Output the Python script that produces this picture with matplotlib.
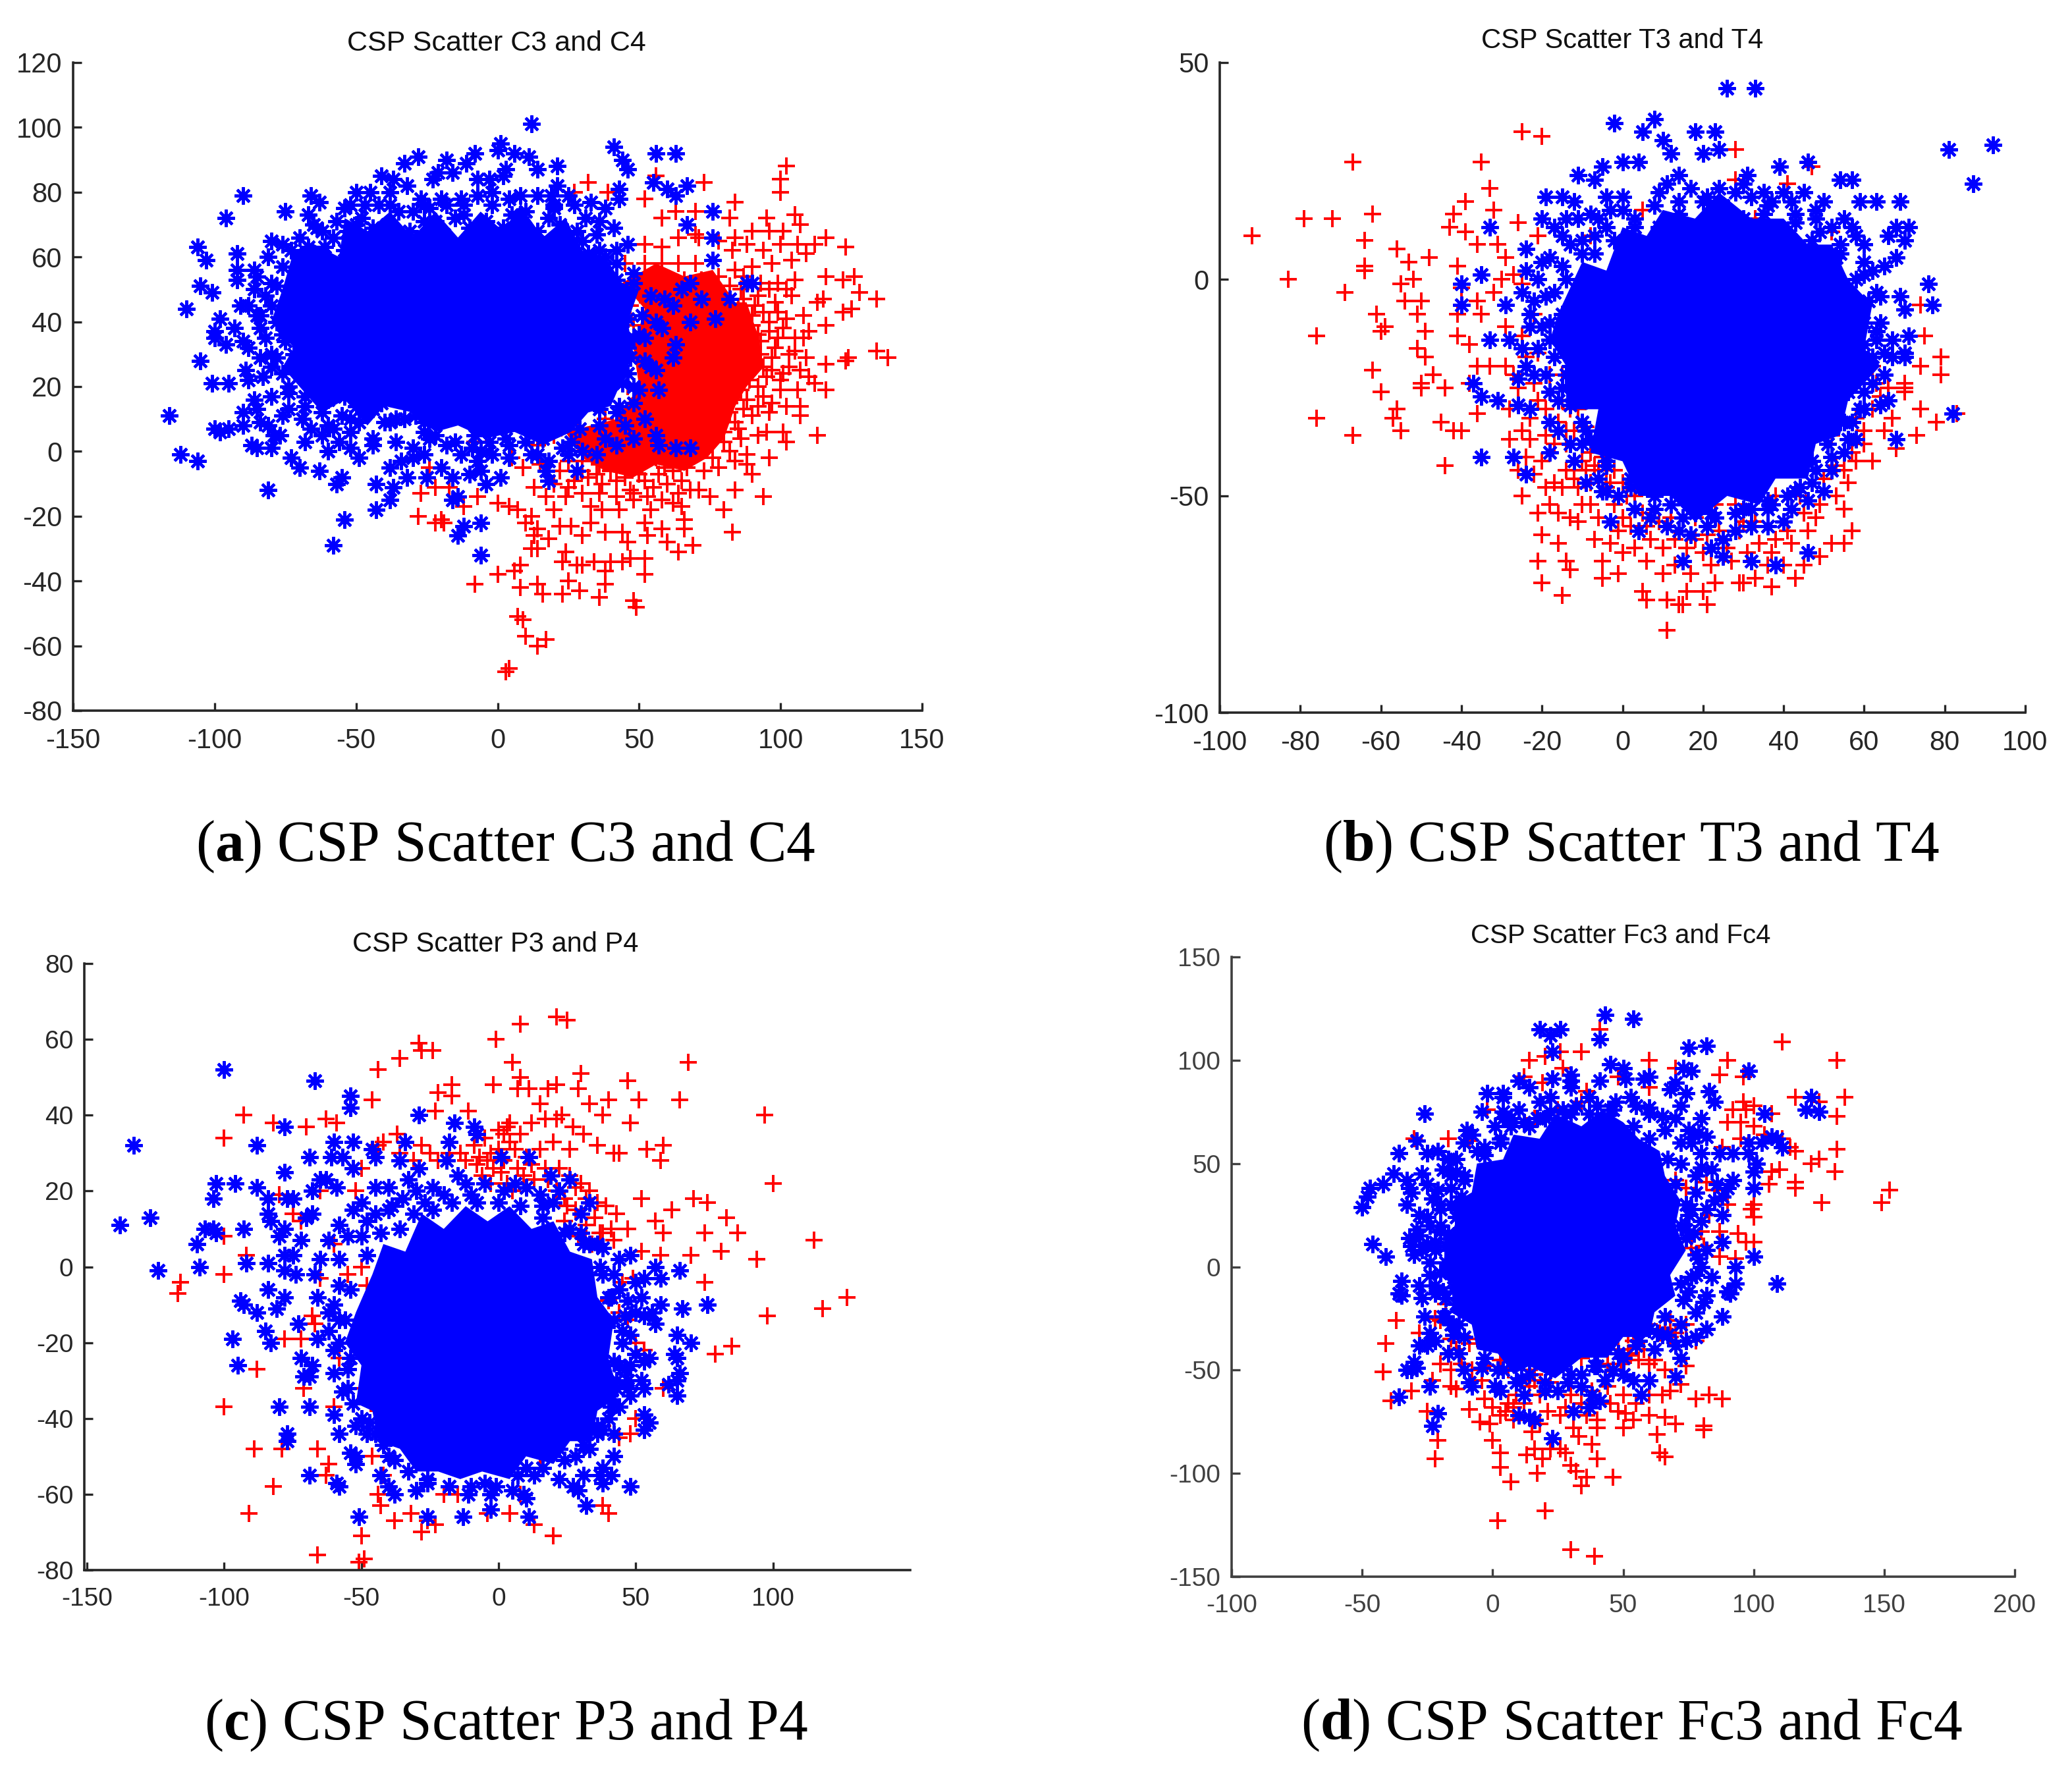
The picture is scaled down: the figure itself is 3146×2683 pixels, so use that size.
import matplotlib
matplotlib.use('Agg')
import matplotlib.pyplot as plt

plt.rcParams['font.family'] = ['Liberation Sans', 'DejaVu Sans']
plt.rcParams['axes.unicode_minus'] = False
plt.rcParams['mathtext.fontset'] = 'custom'
plt.rcParams['mathtext.rm'] = 'Liberation Serif'
plt.rcParams['mathtext.bf'] = 'Liberation Serif:bold'

W, H = 3146, 2683

# values, single markers can't be told apart inside the solid cores
a_red = [(3,-68),(4,-67),(7,-51),(9,-52),(10,-57),(14,-60),(17,-58),(-8,-41),(0,-38),(6,-37),(8,-35),(8,-42),(14,-41),(16,-44),(23,-44),(25,-40),(29,-43),(36,-45),(38,-41),(38,-37),(48,-46),(49,-48),(52,-38),(52,-33),(64,-31),(69,-29),(44,-34),(47,-33),(40,-34),(34,-34),(30,-35),(28,-35),(23,-34),(24,-31),(14,-30),(12,-30),(-6,-32),(-28,-20),(-22,-22),(-20,-21),(-19,-22),(10,-22),(12,-20),(14,-24),(13,-26),(18,-27),(22,-23),(26,-23),(30,-26),(33,-22),(38,-25),(44,-25),(46,-28),(52,-22),(53,-26),(58,-24),(60,-28),(65,-17),(66,-24),(66,-21),(83,-25),(80,-18),(75,-14),(71,-12),(84,-12),(94,-14),(96,-2),(90,-7),(88,-1),(113,5),(107,11),(107,14),(102,3),(101,6),(95,6),(116,19),(112,21),(110,23),(116,27),(123,28),(124,29),(134,31),(138,29),(116,39),(110,37),(108,35),(115,47),(113,46),(116,54),(122,53),(126,54),(128,49),(134,47),(125,44),(122,43),(123,63),(116,66),(112,64),(106,64),(107,70),(105,73),(101,68),(96,68),(95,72),(84,77),(82,72),(100,80),(100,84),(102,88),(73,83),(70,74),(56,85),(52,78),(32,83),(27,80),(39,80),(-27,-13),(-24,-5),(-22,-11),(-17,-11),(-12,-17),(-7,-14),(0,-16),(4,-17),(7,-18),(13,-11),(17,-14),(20,-18),(24,-14),(30,-13),(33,-17),(37,-18),(43,-18),(48,-15),(54,-18),(58,-15),(62,-16),(68,-12),(73,-6),(78,-5),(84,-3),(22,-6),(27,-9),(32,-8),(37,-10),(42,-9),(47,-12),(52,-9),(57,-7),(62,-6),(67,-5),(30,-3),(36,-4),(41,-3),(46,-5),(51,-4),(56,-2),(61,-1),(68,1),(74,2),(80,3),(86,4),(92,5),(33,3),(38,4),(44,3),(49,5),(54,6),(60,6),(65,8),(72,8),(78,9),(84,9),(90,11),(96,12),(102,14),(50,11),(56,12),(62,12),(66,14),(70,14),(76,15),(82,15),(88,16),(94,17),(100,19),(106,19),(60,18),(64,19),(68,19),(72,20),(77,21),(83,21),(89,22),(95,23),(101,24),(107,25),(64,24),(68,25),(71,25),(74,26),(79,27),(85,28),(91,28),(97,29),(103,30),(109,29),(62,29),(66,30),(69,30),(72,31),(76,31),(81,32),(87,33),(93,34),(99,35),(105,35),(60,35),(64,35),(68,35),(72,36),(76,36),(80,37),(84,38),(90,39),(96,40),(102,41),(108,42),(48,39),(55,40),(62,40),(67,41),(71,41),(75,42),(79,42),(85,44),(91,45),(98,46),(104,48),(47,45),(53,46),(59,46),(65,46),(70,47),(75,47),(80,48),(86,50),(93,52),(99,52),(105,53),(40,51),(48,52),(54,52),(60,52),(66,53),(72,53),(78,54),(84,56),(90,57),(97,58),(104,59),(109,61),(45,58),(52,58),(58,58),(64,58),(70,58),(76,59),(83,62),(88,64),(94,62),(100,64),(52,64),(58,63),(64,66),(71,66),(78,65),(84,66),(90,68),(58,72),(63,74),(70,67),(24,30),(27,25),(30,20),(35,15),(38,10),(43,14),(46,20),(42,25),(45,30),(38,33),(33,28),(25,12),(28,7),(20,5),(14,2),(-4,5),(-8,3),(5,-2),(9,-5),(15,-4),
(92,20),(97,25),(93,30),(98,32),(103,26),(88,26),(92,36),(96,37),(101,38),(105,31),(100,22),(94,26),(86,31),(90,42),(94,43),(99,43),(87,47),(82,51),(87,54),(92,48),(96,50),(102,50),(82,18),(86,19),(80,24),(84,23),(76,11),(82,12),(87,13),(92,14),(97,15),(74,5),(80,6),(85,7),(70,-1),(76,-2),(82,0),(88,-4),(30,-6),(25,-3),(35,-7),(40,-6),(45,-8),(50,-7),(55,-11),(60,-10),(65,-9),(36,-13),(42,-14),(48,-13),(53,-14),(25,-11),(20,-10),(64,-13),(59,-5)]
a_blue = [(12,101),(1,95),(0,93),(-28,91),(-18,90),(-33,89),(-23,84),(-16,86),(-21,86),(-11,89),(-8,92),(6,92),(11,91),(14,87),(3,87),(2,85),(-7,84),(-3,84),(21,88),(41,94),(44,90),(46,87),(56,92),(63,92),(55,83),(21,82),(43,81),(60,81),(67,82),(63,79),(43,78),(76,74),(67,70),(76,66),(76,59),(-66,79),(-63,77),(-41,85),(-37,84),(-32,82),(-38,80),(-45,80),(-50,80),(-27,78),(-90,79),(-96,72),(-75,74),(-67,73),(-65,70),(-106,63),(-103,59),(-92,61),(-80,65),(-105,51),(-101,49),(-92,56),(-92,53),(-86,56),(-85,54),(-86,50),(-81,60),(-110,44),(-98,41),(-91,45),(-100,37),(-100,35),(-96,33),(-93,38),(-90,34),(-85,42),(-105,28),(-101,21),(-95,21),(-89,25),(-116,11),(-112,-1),(-106,-3),(-100,7),(-98,6),(-95,7),(-90,12),(-90,8),(-87,2),(-85,1),(-81,8),(-80,1),(-77,5),(-81,-12),(-73,-2),(-70,-5),(-63,-6),(-49,-2),(-55,-8),(-57,-10),(-54,-21),(-58,-29),(-43,-18),(-38,-15),(-43,-10),(-37,-11),(-16,-15),(-14,-14),(-14,-26),(-12,-23),(-6,-22),(-6,-32),(-4,-10),(1,-8),(18,-9),(28,-6),
(-54,75),(-48,72),(-42,76),(-35,74),(-24,75),(-18,76),(-12,73),(-7,79),(-2,76),(4,78),(10,74),(14,79),(20,75),(27,76),(31,72),(38,75),(-53,68),(-47,66),(-39,70),(-31,68),(-26,71),(-19,67),(-10,69),(-4,71),(2,69),(8,70),(14,68),(22,70),(28,68),(35,67),(41,69),(46,64),(42,62),(-73,62),(-67,63),(-61,63),(-54,62),(-48,60),(-41,64),(-34,62),(-29,61),(-22,63),(-15,60),(-8,62),(-1,64),(5,63),(10,62),(17,61),(24,62),(32,61),(38,60),
(-76,57),(-70,58),(-64,57),(-58,57),(-52,56),(-46,55),(-40,58),(-33,56),(-27,55),(-20,57),(-12,54),(-6,57),(2,56),(8,57),(15,56),(22,55),(29,56),(35,54),(42,53),(48,52),
(-78,51),(-80,45),(-78,40),(-82,35),(-75,34),(-84,29),(-78,29),(-72,30),(-66,30),(-60,29),(-54,28),(-83,23),(-76,24),(-70,24),(-64,24),(-57,23),(-50,22),(-44,23),(-86,16),(-80,17),(-74,18),(-68,17),(-60,16),(-54,17),(-47,17),(-41,15),(-35,18),(-84,9),(-76,11),(-69,10),(-62,12),(-55,11),(-49,9),(-40,9),(-33,10),(-26,9),(-19,10),(-12,11),(-68,3),(-62,5),(-56,3),(-52,6),(-44,2),(-36,3),(-30,1),(-24,4),(-15,3),(-9,1),(-3,3),(3,4),(10,3),(16,4),(23,1),(30,0),(38,4),(42,2),(48,4),(57,2),(63,1),(68,1),
(46,41),(51,42),(56,40),(59,47),(58,38),(62,45),(65,50),(68,52),(72,47),(82,47),(88,52),(90,52),(46,32),(63,33),(62,29),(68,40),(77,41),(47,29),(54,26),(56,25),(44,21),(50,19),(57,19),(36,13),(43,14),(48,15),(45,8),(52,10),(56,5),(24,9),(29,7),(40,36),(44,33),(48,35),(52,35),(42,27),(46,24),(38,20),(34,15),
(-60,0),(-52,1),(-34,-3),(-30,-2),(-26,-1),(-20,-5),(-13,-1),(-7,-3),(-2,-1),(4,-2),(12,-1),(18,-3),(25,-1),(35,-1),(-38,-5),(-32,-8),(-25,-8),(-16,-8),(-10,-7),(-6,-6),(17,-6),
(-70,66),(-64,69),(-57,71),(-50,70),(-44,69),(-36,66),(-30,74),(-22,71),(-15,72),(-9,66),(-3,67),(5,73),(11,66),(18,72),(24,66),(30,65),(36,71),(-58,66),(-47,76),(-38,76),(-29,65),(-20,78),(-13,78),(-2,80),(8,79),(19,79),(25,79),(33,77),(-73,50),(-82,48),(-88,45),(-84,38),(-88,32),(-80,26),(-88,22),(-85,13),(-79,5),(-74,13),(-66,7),(-58,7),(-50,14),(-44,13),(-38,9),(-29,11),(-22,5),(-8,5),(2,8),
(-84,42),(-80,52),(-76,64),(-62,68),(-52,76),(-26,76),(-12,76),(8,72),(20,76),(28,68),(36,62),(42,58),(48,55),(54,48),(50,36),(52,28),(48,20),(42,12),(36,8),(26,3),(14,-1),(4,2),(-6,0),(-18,2),(-26,6),(-36,10),(-44,4),(-52,10),(-60,8),(-68,14),(-74,20),(-80,30),(-76,36)]

b_red = [(-92,10),(-83,0),(-79,14),(-72,14),(-67,27),(-69,-3),(-64,2),(-64,3),(-64,9),(-62,15),(-61,-8),(-60,-12),(-59,-11),(-76,-13),(-76,-32),(-67,-36),(-62,-21),(-60,-26),(-56,-30),(-57,-32),(-55,-35),(-56,7),(-53,4),(-52,0),(-55,-1),(-54,-5),(-50,-5),(-51,-8),(-49,-12),(-51,-16),(-49,-18),(-50,-24),(-50,-25),(-47,-22),(-48,5),(-44,-25),(-45,-33),(-42,-35),(-40,-35),(-44,-43),(-43,12),(-42,15),(-39,18),(-35,27),(-33,21),(-32,16),(-39,11),(-36,8),(-31,8),(-29,5),(-26,13),(-25,34),(-20,33),(-21,10),(-41,3),(-40,-2),(-41,-8),(-41,-13),(-38,-15),(-36,-5),(-35,-8),(-32,-3),(-30,0),(-27,1),(-25,-1),(-29,-11),(-25,-13),(-22,-8),(-36,-20),(-33,-20),(-38,-24),(-29,-20),(-27,-22),(-24,-18),(-21,-17),(-36,-31),(-28,-37),(-25,-35),(-23,-37),(-19,-36),(-26,-44),(-25,-50),(-21,-54),(-20,-59),(-18,-52),(-19,-48),(-21,-65),(-20,-70),(-16,-61),(-15,-73),(-14,-65),(-13,-67),(-15,-48),(-12,-44),(-11,-56),(-7,-60),(-6,-55),(-5,-65),(-5,-69),(-1,-68),(-3,-61),(5,-72),(6,-74),(11,-81),(11,-74),(14,-75),(15,-75),(16,-72),(20,-72),(21,-75),(23,-70),(29,-70),(30,-70),(37,-71),(43,-69),(45,-66),(49,-64),(52,-61),(55,-61),(57,-58),(48,-55),(56,-47),(58,-42),(62,-42),(65,-35),(62,-30),(68,-39),(73,-36),(74,-30),(78,-33),(83,-31),(79,-22),(79,-18),(75,-13),(74,-6),(70,-24),(70,-26),(74,-20),(70,-25),(47,26),(28,30),(28,23),(41,22),(33,14),(5,16),(-8,10),(52,11),(-12,-35),(-8,-40),(-4,-44),(-10,-42),(-14,-38),(-16,-33),(-19,-30),(-13,-30),(-8,-47),(-4,-48),(0,-47),(3,-50),(5,-54),(0,-55),(7,-60),(10,-62),(3,-62),(13,-66),(17,-68),(20,-63),(24,-58),(29,-58),(34,-61),(38,-60),(42,-61),(46,-58),(18,-55),(28,-52),(38,-50),(44,-50),(50,-46),(53,-43),(57,-40),(46,-42),(52,-36),(60,-35),(60,-26),(58,-23),(63,-24),(55,-22),(53,-25),(60,-20),(-22,-24),(-18,-26),(-15,-28),(-12,-25),(-20,-42),(-14,-44),(-11,-48),(-6,-44),(1,-40),(4,-46),(8,-44),(-2,-52),(8,-53),(12,-55),(23,-52),(31,-63),(36,-66),(0,-63),(-8,-52),
(-17,-38),(-14,-35),(-10,-38),(-7,-43),(-5,-41),(-2,-44),(-12,-46),(-9,-44),(-3,-47),(1,-50),(-1,-58),(2,-57),(6,-57),(9,-56),(13,-60),(16,-62),(21,-59),(26,-62),(30,-56),(33,-56),(37,-63),(41,-58),(45,-54),(49,-52),(53,-50),(55,-53),(-23,-32),(-21,-28),(-18,-22),(-15,-22),(-11,-30),(-9,-34),(-6,-37),(55,-44),(60,-38),(58,-32),(64,-27),(62,-20),(66,-25),(67,-32),(-26,-25),(-28,-30),(-24,-41),(-22,-45),(-17,-47),(18,-60),(22,-66),(27,-65),(40,-66),(33,-69),(10,-68),(6,-65),(-10,-52),(-13,-55),(-16,-54)]
b_blue = [(26,44),(33,44),(8,37),(-2,36),(5,34),(18,34),(23,34),(10,32),(12,29),(20,29),(24,30),(0,27),(4,27),(-5,26),(-11,24),(-7,23),(14,24),(39,26),(46,27),(31,24),(54,23),(57,23),(81,30),(92,31),(87,22),(59,18),(63,18),(69,18),(-19,19),(-15,19),(-4,19),(0,19),(-20,14),(-14,14),(-11,14),(-33,12),(48,14),(71,12),(68,12),(66,10),(70,9),(68,5),(65,3),(-35,1),(-40,-1),(-40,-6),(-29,-6),(-24,2),(-21,0),(-33,-14),(76,-1),(69,-4),(77,-6),(70,-7),(71,-13),(70,-17),(70,-18),(-23,-11),(-37,-24),(-35,-27),(-31,-28),(-26,-29),(-23,-30),(82,-31),(68,-37),(-35,-41),(-27,-41),(-24,-45),(-18,-33),(-18,-40),(-5,-49),(-3,-56),(4,-58),(-4,-49),(15,-65),(25,-64),(32,-65),(38,-66),(46,-63),(22,-62),(25,-60),(14,-58),(36,-57),(40,-56),(18,-54),(23,-55),(66,-28),(64,-29),(65,-22),(59,-30),(58,-37),(56,-37),(60,-10),(57,-8),(-24,-20),(-26,-23),(-22,-22),(-18,-26),(-16,-35),(-13,-38),(-12,-42),(-9,-47),(32,19),(37,18),(35,15),(43,15),(52,12),(57,12),(58,10),(54,8),(53,5),(47,9),(50,6),(58,0),(62,2),(63,-3),(-15,10),(-13,8),(-10,6),(-18,5),(-15,3),(-7,10),(-4,12),(-17,-3),(-10,-4),(-15,-8),(-18,-10),(-12,-11),(-18,-14),(-14,-16),(-21,-16),(-15,-25),(-13,-29),(-9,-28),(-10,-33),(-8,-37),(-4,-42),(60,-15),(62,-18),(58,-20),(56,-26),(54,-33),(51,-38),(48,-44),(44,-48),(46,-51),(50,-49),(41,-50),(37,-52),(32,-53),(28,-54),(12,-52),(8,-50),(2,-48),
(20,18),(25,17),(30,14),(14,15),(9,12),(3,12),(-8,15),(-3,16),(17,21),(24,21),(35,20),(42,18),(50,18),(9,20),(-12,18),(-17,12),(-24,7),(-20,4),(-25,-3),(-22,-5),(-28,-14),(-25,-16),(-19,-22),(61,-5),(64,-10),(67,-14),(65,-17),(63,-14),(60,8),(55,14),(45,20),(-13,-20),(-14,-22),(-10,-38),(-6,-46),(-1,-50),(3,-53),(7,-55),(11,-57),(17,-59),(21,-57),(28,-58),(32,-57),(36,-53),(42,-53),(47,-47),(52,-44),(55,-40),(57,-33),(60,-26),
(-7,6),(-2,9),(3,14),(8,17),(14,18),(21,19),(28,20),(36,17),(43,13),(49,11),(54,6),(60,1),(64,-4),(63,-12),(67,-18),(62,-24),(60,-30),(55,-33),(52,-41),(47,-42),(43,-49),(36,-51),(30,-53),(22,-54),(15,-55),(8,-53),(2,-46),(-4,-43),(-9,-35),(-10,-33),(-16,-28),(-17,-18),(-20,-11),(-19,-4),(-14,0),(-10,9),(-6,14),(0,16),(11,22),(30,22),(40,20),(48,16),(60,4),(-23,-8)]

c_red = [(21,66),(25,65),(-29,59),(-28,57),(-24,57),(-1,60),(8,64),(-44,52),(-36,55),(5,54),(8,50),(30,51),(69,54),(-17,48),(-22,46),(-17,45),(-2,48),(7,47),(11,47),(18,47),(21,48),(29,47),(47,49),(-46,44),(15,43),(33,43),(40,44),(51,44),(66,44),(38,40),(23,40),(-23,41),(-11,41),(-93,40),(-82,38),(-70,37),(-63,39),(-59,38),(-100,34),(-42,33),(-37,35),(12,38),(17,39),(21,39),(48,38),(97,40),(36,32),(31,35),(27,37),(60,32),(42,30),(44,30),(54,31),(59,28),(100,22),(52,18),(71,18),(76,17),(63,15),(57,12),(83,13),(47,10),(60,9),(75,9),(87,9),(-100,8),(115,7),(94,2),(81,4),(70,3),(59,3),(52,4),(-92,3),(-100,-2),(-116,-4),(-117,-7),(75,-4),(98,-13),(118,-11),(127,-8),(85,-21),(79,-23),(60,-32),(53,-22),(-88,-27),(-78,-19),(-72,-19),(-71,-32),(-100,-37),(-89,-48),(-79,-48),(-66,-48),(-62,-52),(-63,-55),(-82,-58),(-91,-65),(-66,-76),(-51,-78),(-49,-77),(-50,-71),(-43,-63),(-44,-60),(-38,-67),(-32,-65),(-28,-70),(-23,-68),(-26,-67),(-4,-65),(4,-65),(13,-68),(20,-71),(38,-63),(40,-65),(-37,-31),(-68,-13),(-67,-15),(-66,-8),(-65,-3),(-55,-2),(-50,0),(-48,-5),(-46,-8),(-58,-24),(-60,-37),(-50,-32),(-44,-38),(-40,-42),(-46,-50),(-42,-55),(0,36),(3,37),(4,38),(2,35),(-5,34),(-4,28),(-8,27),(-6,24),(-3,22),(1,25),(3,22),(6,31),(10,29),(15,31),(17,26),(22,26),(26,24),(30,22),(33,20),(36,17),(39,16),(43,14),(24,18),(28,15),(32,11),(38,9),(42,7),(24,12),(29,8),(34,6),(38,-2),(45,-4),(49,-3),(-9,32),(-14,30),(-25,30),(-31,28),(-50,26),(-65,20),(-52,20),(-75,14),(-80,19),(-72,12),(-60,6),(40,-9),(44,-12),(47,-14),(50,-20),(38,-42),(44,-45),(48,-44),(50,-40),(35,-30),(30,-44),(-15,-60),(-8,-50),(8,-60),(15,-50),(-20,-60),
(0,31),(4,33),(8,35),(-3,30),(-7,29),(-2,26),(2,28),(7,26),(12,27),(13,23),(18,23),(21,20),(28,21),(25,16),(32,18),(30,14),(35,13),(37,9),(41,10),(20,33),(26,31),(-12,28),(-18,30),(-22,28),(-36,30),(-44,32),(-28,32),(9,24),(5,20)]
c_blue = [(-100,52),(-67,49),(-54,45),(-54,42),(-29,40),(-133,32),(-88,32),(-78,37),(-53,33),(-60,33),(-34,33),(-16,38),(-9,37),(-8,35),(-18,33),(-69,29),(-61,29),(-57,29),(-46,31),(-45,29),(-36,28),(-19,28),(1,29),(11,29),(-103,22),(-96,22),(-88,21),(-78,25),(-53,26),(-29,26),(-65,23),(-63,23),(-68,20),(-59,21),(-75,18),(-77,18),(19,24),(26,23),(-104,18),(-138,11),(-127,13),(-124,-1),(-110,6),(-109,0),(-107,10),(-104,10),(-103,9),(-93,10),(-92,1),(-84,1),(-84,18),(-84,14),(-83,12),(-80,8),(-78,10),(-78,3),(-75,3),(-78,-1),(-74,-2),(-72,7),(-70,13),(-68,14),(-84,-6),(-81,-11),(-78,-8),(-94,-9),(-93,-10),(-88,-12),(-73,-15),(-97,-19),(-95,-26),(-85,-17),(-83,-20),(-72,-24),(-69,-29),(-71,-29),(-66,-19),(-68,-26),(-80,-37),(-69,-37),(-77,-44),(-77,-46),(-69,-55),(-59,-57),(-58,-58),(-54,-49),(-52,-50),(-52,-52),(-51,-66),(-26,-66),(-13,-66),(-3,-64),(11,-66),(32,-63),(-30,-59),(-38,-60),(-43,-55),(-40,-58),(5,-59),(9,-60),(10,-61),(-3,-60),(-11,-60),(13,-55),(22,-56),(27,-58),(29,-59),(31,-55),(37,-55),(38,-57),(41,-55),(48,-58),(38,-53),(42,-50),(33,-48),(42,-44),(53,-43),(55,-41),(53,-39),(65,-34),(62,-31),(65,-30),(66,-28),(53,-32),(65,-24),(64,-23),(65,-18),(70,-20),(76,-10),(67,-11),(59,-10),(56,-12),(53,-13),(52,-8),(57,-15),(66,-1),(53,-3),(57,0),(59,-3),(48,3),(44,2),(53,-25),(55,-24),(47,-30),(44,-37),(48,-34),(46,-27),(43,-30),(40,-40),(36,-44),(42,-25),(45,-20),(48,-18),(42,-14),(46,-13),(40,-8),(44,-6),(37,0),(33,6),(33,17),(30,14),(26,10),(22,20),(15,19),(6,22),(-5,22),(-15,24),(-24,21),(-33,23),(-40,21),(-45,21),(-50,17),(-53,15),(-58,11),(-62,7),(-65,2),(-67,-2),(-66,-8),(-60,-10),(-62,-17),(-58,-20),(-60,-28),(-57,-33),(-60,-39),(-58,-44),(-52,-42),(-48,-44),(-46,-34),
(-55,8),(-48,12),(-40,15),(-35,18),(-27,17),(-58,2),(-58,-5),(-62,-12),(-56,-14),(-60,-22),(-55,-27),(-53,-36),(-47,-41),(-42,-47),(-38,-51),(-33,-54),(-26,-57),(-18,-58),(-5,-57),(10,-53),(22,-48),(28,-50),(36,-42),(40,-35),(43,-32),(48,-26),(50,-23),(47,-9),(50,-4),(42,-2),(38,5),(30,9),(16,16),(10,21),(-10,19),(-20,19),(-45,14),
(-58,-14),(-54,-6),(-48,3),(-43,9),(-36,10),(-31,14),(-24,15),(-17,17),(-8,17),(0,17),(8,16),(16,13),(24,9),(31,6),(38,-2),(41,-8),(45,-17),(44,-26),(47,-32),(41,-37),(38,-43),(31,-47),(24,-51),(16,-53),(7,-55),(-1,-58),(-10,-58),(-18,-58),(-26,-56),(-40,-50),(-45,-44),(-50,-40),(-55,-32),(-54,-24),(-50,8),(-39,16),(-30,20),(-12,22),(2,20),(20,17),(36,6),(50,-12),(52,-30)]

d_red = [(39,-140),(30,-137),(20,-118),(2,-123),(3,-97),(3,-90),(7,-104),(17,-100),(30,-96),(32,-99),(34,-106),(36,-102),(40,-93),(46,-102),(64,-90),(66,-92),(13,-91),(16,-88),(19,-93),(22,-88),(26,-88),(28,-90),(38,-86),(40,-78),(50,-78),(63,-81),(81,-77),(81,-79),(78,-64),(83,-62),(88,-64),(70,-76),(66,-73),(60,-72),(54,-74),(51,-71),(-22,-93),(-21,-84),(-25,-70),(-9,-69),(-5,-75),(-1,-76),(0,-84),(-39,-65),(-31,-60),(-23,-55),(-16,-58),(-14,-59),(-42,-51),(-41,-37),(-37,-26),(-28,-32),(-22,-25),(-20,-26),(-18,-18),(-16,-35),(-14,-40),(-20,-47),(-9,-37),(-6,-35),(5,-70),(8,-68),(10,-72),(12,-66),(15,-80),(18,-76),(21,-70),(26,-72),(31,-78),(33,-82),(36,-72),(40,-74),(45,-66),(50,-62),(55,-66),(60,-62),(65,-62),(68,-60),(72,-57),(74,-48),(66,-50),(60,-47),(53,-43),(49,-47),(55,-38),(60,-28),(66,-30),(68,-26),(70,-32),(74,-28),(78,-36),(16,-55),(14,-50),(16,-46),(6,-50),(3,-45),(-2,-48),(26,-45),(34,-44),(40,-42),(44,-47),(52,-33),(56,-33),(-30,62),(-17,62),(-9,61),(-2,76),(14,100),(20,102),(26,104),(34,104),(41,115),(27,96),(12,92),(19,89),(18,80),(16,72),(25,76),(34,80),(36,85),(48,92),(60,100),(60,87),(70,96),(90,100),(87,93),(96,92),(111,109),(132,100),(135,82),(125,80),(116,82),(132,73),(96,80),(97,76),(92,76),(100,78),(107,74),(95,70),(90,70),(100,68),(104,64),(111,62),(114,58),(116,56),(95,62),(88,58),(132,57),(125,52),(122,50),(131,46),(107,46),(110,47),(106,40),(116,41),(116,38),(126,31),(149,31),(152,37),(100,30),(100,24),(99,28),(90,30),(83,25),(87,17),(94,16),(97,12),(100,12),(81,10),(87,5),(93,4),(80,17),(76,9),(70,42),(74,38),(82,41),(85,37),
(52,-42),(54,-36),(48,-40),(44,-42),(58,-40),(62,-45),(64,-32),(68,-34),(56,-45),(16,-52),(14,-58),(18,-62),(22,-56),(9,-62),(6,-66),(3,-72),(0,-68),(-3,-64),(30,-62),(34,-66),(38,-60),(44,-58),(48,-70),(28,-68),(-8,-50),(-12,-47),(-16,-50),(-4,-55),(8,-74)]
d_blue = [(43,122),(54,120),(18,115),(26,115),(22,112),(41,110),(23,104),(82,107),(75,106),(45,98),(50,96),(73,96),(76,95),(98,95),(30,93),(51,91),(58,91),(60,92),(23,91),(41,90),(70,89),(68,86),(30,90),(30,87),(4,84),(-2,84),(4,82),(10,90),(14,87),(-26,74),(122,82),(120,76),(125,75),(104,74),(83,85),(85,80),(80,72),(74,84),(72,78),(-4,75),(4,75),(10,76),(17,72),(37,82),(40,78),(32,78),(27,76),(22,82),(18,80),(47,80),(53,82),(60,77),(65,73),(70,72),(-29,61),(-10,66),(-8,64),(-11,60),(-36,55),(-25,55),(-21,56),(-17,52),(-14,52),(-6,56),(-3,58),(1,68),(3,62),(7,72),(12,70),(107,63),(111,58),(109,62),(98,60),(103,60),(98,55),(92,55),(87,55),(-38,45),(-27,45),(-19,47),(-14,46),(101,50),(100,46),(100,38),(-47,38),(-48,34),(-42,40),(-33,42),(-32,38),(-31,36),(-50,29),(-33,30),(-25,40),(-23,33),(-21,37),(-28,25),(-25,24),(-16,30),(-14,24),(86,40),(90,38),(88,34),(92,42),(85,32),(88,25),(78,44),(72,50),(76,60),(80,55),(84,47),(82,63),(79,65),(75,66),(-46,11),(-41,5),(-32,14),(-29,18),(-31,10),(-28,15),(-27,8),(-25,11),(-24,2),(-30,6),(-20,17),(-18,10),(-18,2),(88,12),(100,5),(93,0),(109,-8),(93,-8),(90,-12),(91,-13),(88,-24),(82,-14),(81,-17),(82,-30),(78,-34),(80,0),(79,4),(76,-5),(74,14),(72,20),(75,25),(80,22),(-35,-7),(-28,-9),(-36,-13),(-35,-14),(-27,-15),(-22,-13),(-26,-24),(-15,-10),(-14,-18),(-24,-32),(-22,-36),(-15,-33),(-30,-46),(-28,-38),(-25,-38),(-31,-50),(-33,-50),(-29,-49),(-17,-42),(-13,-42),(-11,-50),(-9,-56),(-8,-58),(-36,-63),(-24,-58),(-23,-77),(-21,-71),(-4,-49),(2,-50),(3,-60),(1,-58),(10,-72),(14,-73),(16,-74),(23,-83),(31,-70),(37,-68),(41,-65),(43,-55),(50,-52),(54,-55),(57,-62),(60,-55),(70,-53),(72,-44),(74,-36),(70,-38),(62,-40),(65,-33),(60,-30),(9,-56),(12,-62),(20,-60),(25,-60),(29,-56),(34,-58),(38,-62),(14,-52),(22,-50),(27,-47),(34,-52),(39,-48),(46,-50),(50,-44),(56,-36),
(-20,30),(-16,38),(-11,44),(-17,16),(-22,8),(-20,-3),(-22,-9),(-18,-15),(-18,-24),(-13,-28),(-16,-28),(77,16),(82,8),(84,-5),(75,-12),(78,-22),(72,-28),(67,-33),(74,30),(78,36),(82,28),(80,48),(72,60),(66,66),(60,74),(55,78),(45,76),(30,74),(22,75),
(-22,12),(-20,20),(-20,28),(-12,34),(-11,42),(-3,54),(3,60),(7,68),(14,68),(20,72),(28,74),(37,74),(46,76),(54,68),(60,62),(67,52),(70,40),(76,28),(74,18),(78,6),(72,-8),(73,-16),(66,-24),(63,-32),(55,-38),(48,-42),(40,-48),(30,-52),(20,-56),(11,-54),(4,-50),(-3,-44),(-11,-34),(-19,-24),(-19,-12),(-24,-4),(-24,20),(-16,44),(4,72),(60,54),(78,-4)]

# outlines of the overplotted cores where the markers merge into one solid area
a_red_core = [(44,52),(56,58),(66,54),(76,56),(84,46),(88,46),(92,36),(94,26),(88,20),(84,14),(80,4),(74,-2),(66,-6),(56,-4),(48,-8),(38,-6),(30,-2),(24,6),(42,10),(50,20),(48,32),(52,44)]
a_blue_core = [(-80,40),(-76,50),(-72,62),(-65,64),(-56,60),(-54,72),(-46,68),(-38,74),(-30,66),(-22,74),(-14,66),(-6,74),(2,68),(8,76),(16,66),(24,72),(30,62),(38,60),(44,52),(50,50),(46,40),(48,30),(44,22),(40,14),(32,12),(26,6),(16,2),(6,6),(-4,4),(-14,8),(-22,6),(-30,12),(-40,14),(-46,8),(-54,16),(-62,12),(-70,20),(-76,26),(-72,32)]
b_blue_core = [(-16,-8),(-10,4),(-4,2),(0,12),(6,10),(10,16),(18,14),(24,20),(32,14),(40,14),(46,8),(52,8),(56,0),(62,-6),(60,-16),(64,-20),(56,-28),(54,-36),(48,-38),(46,-46),(38,-46),(34,-52),(26,-50),(18,-56),(12,-50),(4,-50),(0,-42),(-8,-40),(-6,-30),(-14,-30),(-14,-20),(-18,-14)]
c_blue_core = [(-52,-12),(-46,-2),(-42,6),(-34,4),(-28,14),(-20,10),(-12,16),(-4,12),(4,16),(12,10),(20,12),(26,4),(34,2),(36,-8),(42,-14),(40,-24),(44,-34),(36,-38),(34,-46),(26,-46),(20,-52),(10,-50),(4,-56),(-6,-54),(-14,-56),(-22,-54),(-30,-54),(-36,-48),(-44,-46),(-46,-38),(-52,-36),(-50,-26),(-56,-20)]
d_blue_core = [(-18,8),(-14,22),(-16,30),(-8,36),(-6,50),(4,52),(8,64),(18,62),(24,74),(34,68),(42,76),(50,70),(56,62),(64,56),(66,44),(72,32),(70,20),(74,8),(68,-4),(70,-14),(62,-22),(60,-34),(50,-34),(44,-44),(34,-44),(24,-54),(14,-48),(8,-52),(2,-42),(-6,-40),(-8,-28),(-16,-22),(-14,-10),(-20,-4)]

a_xticks = [-150, -100, -50, 0, 50, 100, 150]
a_yticks = [-80, -60, -40, -20, 0, 20, 40, 60, 80, 100, 120]
b_xticks = [-100, -80, -60, -40, -20, 0, 20, 40, 60, 80, 100]
b_yticks = [-100, -50, 0, 50]
c_xticks = [-150, -100, -50, 0, 50, 100]
c_yticks = [-80, -60, -40, -20, 0, 20, 40, 60, 80]
d_xticks = [-100, -50, 0, 50, 100, 150, 200]
d_yticks = [-150, -100, -50, 0, 50, 100, 150]

titles = ['CSP Scatter C3 and C4', 'CSP Scatter T3 and T4', 'CSP Scatter P3 and P4', 'CSP Scatter Fc3 and Fc4']
captions = [r'($\mathbf{a}$) CSP Scatter C3 and C4', r'($\mathbf{b}$) CSP Scatter T3 and T4',
            r'($\mathbf{c}$) CSP Scatter P3 and P4', r'($\mathbf{d}$) CSP Scatter Fc3 and Fc4']


def panel(box, red, blue, red_core, blue_core, xlim, ylim, xticks, yticks, title, color, fs, tfs, tx, ty):
    l, t, r, b = box
    ax = fig.add_axes([l / W, 1 - b / H, (r - l) / W, (b - t) / H])
    if red_core:
        ax.fill(*zip(*red_core), color='#ff0000', lw=0, zorder=2)
    x, y = zip(*red)
    ax.plot(x, y, ls='none', marker='+', color='#ff0000', ms=19, mew=2.8, clip_on=False, zorder=2)
    ax.fill(*zip(*blue_core), color='#0000ff', lw=0, zorder=3)
    x, y = zip(*blue)
    ax.plot(x, y, ls='none', marker=(8, 2, 0), color='#0000ff', ms=19, mew=3, clip_on=False, zorder=3)
    ax.set_xlim(xlim)
    ax.set_ylim(ylim)
    ax.set_xticks(xticks)
    ax.set_yticks(yticks)
    ax.spines['top'].set_visible(False)
    ax.spines['right'].set_visible(False)
    for s in ['left', 'bottom']:
        ax.spines[s].set_linewidth(2.6)
        ax.spines[s].set_color(color)
    ax.tick_params(direction='in', length=9, width=2.4, color=color, labelcolor=color, labelsize=fs)
    ax.tick_params(axis='x', pad=19)
    ax.tick_params(axis='y', pad=12)
    fig.text(tx / W, 1 - ty / H, title, fontsize=tfs, ha='center', va='center', color='#111111')


fig = plt.figure(figsize=(W / 100, H / 100), dpi=100, facecolor='white')

panel((111, 95, 1400, 1079), a_red, a_blue, a_red_core, a_blue_core, (-150, 150), (-80, 120), a_xticks, a_yticks, titles[0], '#262626', 30, 31, 754, 66)
panel((1852, 95, 3075, 1082), b_red, b_blue, None, b_blue_core, (-100, 100), (-100, 50), b_xticks, b_yticks, titles[1], '#262626', 30, 30, 2463, 62)
panel((128, 1463, 1382, 2384), c_red, c_blue, None, c_blue_core, (-151, 150), (-80, 80), c_xticks, c_yticks, titles[2], '#262626', 28, 30, 752, 1434)
panel((1870, 1453, 3059, 2394), d_red, d_blue, None, d_blue_core, (-100, 200), (-150, 150), d_xticks, d_yticks, titles[3], '#404040', 28, 29, 2461, 1421)

for txt, cx, cy in zip(captions, [768, 2477, 768, 2477], [1286, 1286, 2620, 2620]):
    fig.text(cx / W, 1 - cy / H, txt, fontsize=63, family='Liberation Serif', ha='center', va='center', color='black')

fig.savefig('out.png', dpi=100)
